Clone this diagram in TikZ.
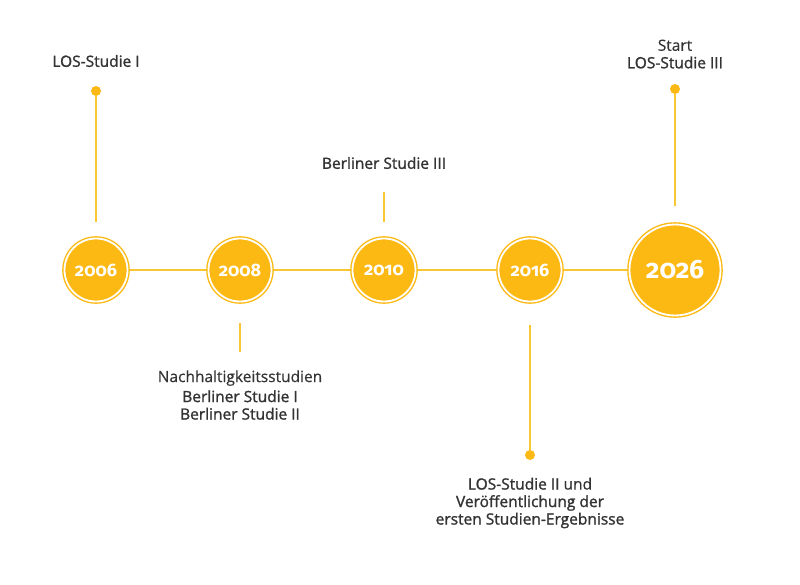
\documentclass[tikz,border=0pt]{standalone}
\usepackage{fontspec}
\setmainfont{Open Sans}[FakeBold=0.4]
\newfontfamily\semifont{Open Sans}[FakeBold=1.4]
\newfontfamily\yearfont[Numbers=OldStyle]{Fira Sans}
\usetikzlibrary{backgrounds}
\definecolor{amber}{HTML}{FDB913}
\definecolor{stem}{HTML}{F9C634}
\definecolor{ink}{HTML}{333333}
\tikzset{
  year/.style={circle, fill=amber, draw=amber, line width=1.4pt, double=white,
    double distance=1.8pt, minimum size=63pt, inner sep=0pt, text=white,
    font=\yearfont\bfseries\fontsize{18}{18}\selectfont},
  bigyear/.style={year, minimum size=91pt, font=\yearfont\bfseries\fontsize{26.5}{26.5}\selectfont},
  note/.style={text=ink, font=\fontsize{15.5}{17.5}\selectfont, align=center},
  pin/.style={circle, fill=amber, minimum size=10pt, inner sep=0pt},
  link/.style={stem, line width=1.5pt}
}

\begin{document}
\begin{tikzpicture}[x=1pt, y=-1pt]
  \useasboundingbox (0,0) rectangle (800,584);
  % Milestones along the time axis.
  \node[year]    (y2006) at (96,270)  {2006};
  \node[year]    (y2008) at (240,270) {2008};
  \node[year]    (y2010) at (384,270) {2010};
  \node[year]    (y2016) at (530,270) {2016};
  \node[bigyear] (y2026) at (675,270) {2026};
  % Pins and stem ends.
  \node[pin] (p2006) at (96,91) {};
  \node[pin] (p2016) at (530,455) {};
  \node[pin] (p2026) at (675,89) {};
  \coordinate (s2006) at (96,222);
  \coordinate (a2008) at (240,323);
  \coordinate (b2008) at (240,352);
  \coordinate (a2010) at (384,192);
  \coordinate (b2010) at (384,222);
  \coordinate (s2016) at (530,325);
  \coordinate (s2026) at (675,206);
  % Labels above and below the axis.
  \node[note] (t2006) at (96,61)  {\semifont LOS-Studie I};
  \node[note] (t2008) at (240,395) {Nachhaltigkeitsstudien\\[2.5pt]\semifont Berliner Studie I\\\semifont Berliner Studie II};
  \node[note] (t2010) at (384,163) {\semifont Berliner Studie III};
  \node[note] (t2016) at (530,503) {{\semifont LOS-Studie II} und\\\semifont Ver\"offentlichung der\\\semifont ersten Studien-Ergebnisse};
  \node[note] (t2026) at (675,54)  {Start\\\semifont LOS-Studie III};
  % Axis and stems behind the circles.
  \begin{scope}[on background layer]
    \draw[link] (y2006) -- (y2008) -- (y2010) -- (y2016) -- (y2026);
    \draw[link] (p2006) -- (s2006);
    \draw[link] (a2008) -- (b2008);
    \draw[link] (a2010) -- (b2010);
    \draw[link] (s2016) -- (p2016);
    \draw[link] (p2026) -- (s2026);
  \end{scope}
\end{tikzpicture}
\end{document}
